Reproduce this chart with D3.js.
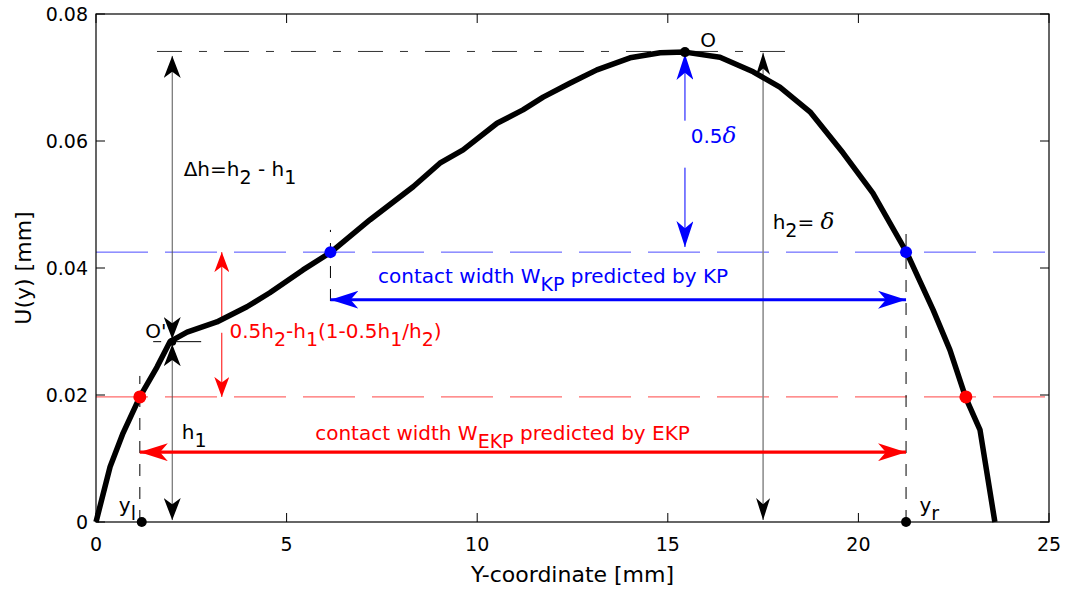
<!DOCTYPE html>
<html>
<head>
<meta charset="utf-8">
<script src="https://cdn.jsdelivr.net/npm/d3@7"></script>
<style>
  body { margin: 0; background: #fff; }
  svg { font-family: "DejaVu Sans", "Liberation Sans", Arial, sans-serif; }
  .sym { font-family: "DejaVu Serif", "Liberation Serif", serif; font-style: italic; }
</style>
</head>
<body>
<svg width="1067" height="590"></svg>
<script>
// deflection profile U(y)
const yCoord = [0, 0.37, 0.71, 1.15, 1.6, 1.94, 2.39, 3.17, 3.96, 4.56, 5.43, 6.14, 7.19, 8.32, 9.02, 9.63,
  10.52, 11.2, 11.73, 12.43, 13.14, 14.01, 14.8, 15.45, 16.37, 17.24, 17.94, 18.73, 19.6, 20.38, 21.27,
  21.96, 22.4, 22.82, 23.19, 23.58];
const uVal = [0, 0.0087, 0.014, 0.0197, 0.0244, 0.0284, 0.0299, 0.0315, 0.0339, 0.0361, 0.0397, 0.0424,
  0.0476, 0.0528, 0.0565, 0.0586, 0.0628, 0.0649, 0.0669, 0.0691, 0.0712, 0.0731, 0.0739, 0.074, 0.0732,
  0.0709, 0.0685, 0.0646, 0.0581, 0.0518, 0.0424, 0.0334, 0.0271, 0.0195, 0.0145, 0];

const xTicks = [0, 5, 10, 15, 20, 25];
const yTicks = [0, 0.02, 0.04, 0.06, 0.08];

// key levels / positions
const h2 = 0.0741, h1 = 0.0284;
const kpLevel = 0.0425, ekpLevel = 0.0197;
const yl = 1.15, yr = 21.25, kpLeft = 6.15, ekpRight = 22.82;
const yO = 15.45, yOp = 2.0, yH2 = 17.5, yRed = 3.3;
const kpArrowU = 0.035, ekpArrowU = 0.011;

const margin = { top: 14, right: 18, bottom: 68, left: 96 };
const width = 1067, height = 590;
const fsTick = 19, fsAnn = 20, fsTitle = 22;

const svg = d3.select("svg");

const x = d3.scaleLinear().domain([0, 25]).range([margin.left, width - margin.right]);
const y = d3.scaleLinear().domain([0, 0.08]).range([height - margin.bottom, margin.top]);

// arrow heads, MATLAB-ish notched
const defs = svg.append("defs");
function marker(id, color, len, wid) {
  defs.append("marker")
    .attr("id", id)
    .attr("viewBox", `${-len} ${-wid / 2} ${len} ${wid}`)
    .attr("refX", 0).attr("refY", 0)
    .attr("markerUnits", "userSpaceOnUse")
    .attr("markerWidth", len).attr("markerHeight", wid)
    .attr("orient", "auto-start-reverse")
    .append("path")
    .attr("d", `M0,0 L${-len},${-wid / 2} L${-len * 0.72},0 L${-len},${wid / 2} Z`)
    .attr("fill", color);
}
marker("ahBlack", "#000", 22, 17);
marker("ahGray", "#000", 22, 14);
marker("ahRedThin", "#f00", 20, 15);
marker("ahBlueThin", "#00f", 26, 17);
marker("ahBlue", "#00f", 28, 18);
marker("ahRed", "#f00", 28, 18);

const plot = svg.append("g");

// reference dashed lines
plot.append("line")
  .attr("x1", x(0)).attr("x2", x(25)).attr("y1", y(kpLevel)).attr("y2", y(kpLevel))
  .attr("stroke", "#4d4dff").attr("stroke-width", 1).attr("stroke-dasharray", "52,17");
plot.append("line")
  .attr("x1", x(0)).attr("x2", x(25)).attr("y1", y(ekpLevel)).attr("y2", y(ekpLevel))
  .attr("stroke", "#ff6b6b").attr("stroke-width", 1.2).attr("stroke-dasharray", "52,17");
plot.append("line")
  .attr("x1", x(1.6)).attr("x2", x(18.2)).attr("y1", y(h2)).attr("y2", y(h2))
  .attr("stroke", "#333").attr("stroke-width", 1).attr("stroke-dasharray", "25,17,8,17");
plot.append("line")
  .attr("x1", x(1.5)).attr("x2", x(2.8)).attr("y1", y(h1)).attr("y2", y(h1))
  .attr("stroke", "#000").attr("stroke-width", 1).attr("stroke-dasharray", "8,10,30");

// vertical dashed drop lines
const drops = [[yl, 0, 0.023], [yr, 0, 0.046], [kpLeft, 0.0348, 0.046]];
plot.selectAll(".drop").data(drops).join("line")
  .attr("class", "drop")
  .attr("x1", d => x(d[0])).attr("x2", d => x(d[0]))
  .attr("y1", d => y(d[1])).attr("y2", d => y(d[2]))
  .attr("stroke", "#000").attr("stroke-width", 1).attr("stroke-dasharray", "12,11");

// black vertical arrows: delta h and h1
function vArrow(xv, u0, u1, color, sw, mk) {
  return plot.append("line")
    .attr("x1", x(xv)).attr("x2", x(xv)).attr("y1", y(u0)).attr("y2", y(u1))
    .attr("stroke", color).attr("stroke-width", sw)
    .attr("marker-start", `url(#${mk})`).attr("marker-end", `url(#${mk})`);
}
vArrow(yOp, h1 + 0.0004, h2 - 0.0007, "#555", 1, "ahBlack");
vArrow(yOp, 0.0003, h1 - 0.0004, "#555", 1, "ahBlack");
vArrow(yH2, 0.0003, h2 - 0.0002, "#888", 1.5, "ahGray");

// thin vertical arrows with gap for text
function splitArrow(xv, uTop, uBot, gapTop, gapBot, color, mk) {
  plot.append("line")
    .attr("x1", x(xv)).attr("x2", x(xv)).attr("y1", y(uTop)).attr("y2", y(gapTop))
    .attr("stroke", color).attr("stroke-width", 1).attr("marker-start", `url(#${mk})`);
  plot.append("line")
    .attr("x1", x(xv)).attr("x2", x(xv)).attr("y1", y(gapBot)).attr("y2", y(uBot))
    .attr("stroke", color).attr("stroke-width", 1).attr("marker-end", `url(#${mk})`);
}
splitArrow(yO, h2 - 0.0004, kpLevel + 0.0008, 0.0632, 0.0558, "#00f", "ahBlueThin");
splitArrow(yRed, kpLevel, ekpLevel, 0.0322, 0.0298, "#f00", "ahRedThin");

// horizontal contact width arrows
plot.append("line")
  .attr("x1", x(kpLeft)).attr("x2", x(yr)).attr("y1", y(kpArrowU)).attr("y2", y(kpArrowU))
  .attr("stroke", "#00f").attr("stroke-width", 3.2)
  .attr("marker-start", "url(#ahBlue)").attr("marker-end", "url(#ahBlue)");
plot.append("line")
  .attr("x1", x(yl)).attr("x2", x(yr)).attr("y1", y(ekpArrowU)).attr("y2", y(ekpArrowU))
  .attr("stroke", "#f00").attr("stroke-width", 3.2)
  .attr("marker-start", "url(#ahRed)").attr("marker-end", "url(#ahRed)");

// the curve
plot.append("path")
  .datum(d3.zip(yCoord, uVal))
  .attr("fill", "none").attr("stroke", "#000").attr("stroke-width", 5.5)
  .attr("stroke-linejoin", "round")
  .attr("d", d3.line().x(d => x(d[0])).y(d => y(d[1])));

// marked points
const dots = [
  [yl, ekpLevel, "#f00", 6.5], [ekpRight, ekpLevel, "#f00", 6.5],
  [kpLeft, kpLevel, "#00f", 6], [yr, kpLevel, "#00f", 6],
  [yl + 0.05, 0, "#000", 5], [yr, 0, "#000", 5],
  [yO, 0.074, "#000", 5], [yOp, h1, "#000", 4]
];
plot.selectAll(".dot").data(dots).join("ellipse")
  .attr("class", "dot")
  .attr("cx", d => x(d[0])).attr("cy", d => y(d[1]))
  .attr("rx", d => d[3]).attr("ry", d => d[3])
  .attr("fill", d => d[2]);

// axes box with inward ticks
const box = svg.append("g");
box.append("rect")
  .attr("x", x(0)).attr("y", y(0.08)).attr("width", x(25) - x(0)).attr("height", y(0) - y(0.08))
  .attr("fill", "none").attr("stroke", "#000").attr("stroke-width", 1.2);
const tl = 9;
box.selectAll(".xt").data(xTicks).join("path").attr("class", "xt")
  .attr("d", d => `M${x(d)},${y(0)}v${-tl}M${x(d)},${y(0.08)}v${tl}`)
  .attr("stroke", "#000");
box.selectAll(".yt").data(yTicks).join("path").attr("class", "yt")
  .attr("d", d => `M${x(0)},${y(d)}h${tl}M${x(25)},${y(d)}h${-tl}`)
  .attr("stroke", "#000");
box.selectAll(".xl").data(xTicks).join("text").attr("class", "xl")
  .attr("x", d => x(d)).attr("y", y(0) + 29)
  .attr("text-anchor", "middle").attr("font-size", fsTick).text(d => d);
box.selectAll(".yl").data(yTicks).join("text").attr("class", "yl")
  .attr("x", x(0) - 8).attr("y", d => y(d) + 7)
  .attr("text-anchor", "end").attr("font-size", fsTick).text(d => d === 0 ? "0" : d.toFixed(2));

svg.append("text")
  .attr("x", (x(0) + x(25)) / 2).attr("y", height - 8)
  .attr("text-anchor", "middle").attr("font-size", fsTitle).text("Y-coordinate [mm]");
svg.append("text")
  .attr("transform", `translate(31,${(y(0) + y(0.08)) / 2}) rotate(-90)`)
  .attr("text-anchor", "middle").attr("font-size", fsTitle).text("U(y) [mm]");

// rich labels: parts are [text, kind] kind = "sub" | "sym" | undefined
function label(px, py, parts, color, anchor) {
  const t = svg.append("text")
    .attr("x", px).attr("y", py).attr("fill", color).attr("font-size", fsAnn)
    .attr("text-anchor", anchor || "start");
  let shifted = false;
  parts.forEach(([s, kind]) => {
    const span = t.append("tspan").text(s);
    if (kind === "sub" && !shifted) { span.attr("dy", 8).attr("font-size", 19); shifted = true; }
    else if (kind === "sub") { span.attr("font-size", 19); }
    else if (shifted) { span.attr("dy", -8); shifted = false; }
    if (kind === "sym") span.attr("class", "sym").attr("font-size", 23);
  });
  return t;
}

label(x(2.3), y(0.0545), [["\u0394h=h"], ["2", "sub"], [" - h"], ["1", "sub"]], "#000");
label(x(2.25), y(0.0131), [["h"], ["1", "sub"]], "#000");
label(x(1.85), y(0.029), [["O'"]], "#000", "end");
label(x(15.85), y(0.0748), [["O"]], "#000");
label(x(15.6), y(0.0597), [["0.5"], ["\u03b4", "sym"]], "#00f");
label(x(17.75), y(0.0461), [["h"], ["2", "sub"], ["= "], ["\u03b4", "sym"]], "#000");
label(x(3.5), y(0.029), [["0.5h"], ["2", "sub"], ["-h"], ["1", "sub"], ["(1-0.5h"], ["1", "sub"], ["/h"], ["2", "sub"], [")"]], "#f00");
label(x(7.4), y(0.0377), [["contact width W"], ["KP", "sub"], [" predicted by KP"]], "#00f");
label(x(5.75), y(0.0129), [["contact width W"], ["EKP", "sub"], [" predicted by EKP"]], "#f00");
label(x(0.6), y(0.0015), [["y"], ["l", "sub"]], "#000");
label(x(21.6), y(0.0015), [["y"], ["r", "sub"]], "#000");
</script>
</body>
</html>
